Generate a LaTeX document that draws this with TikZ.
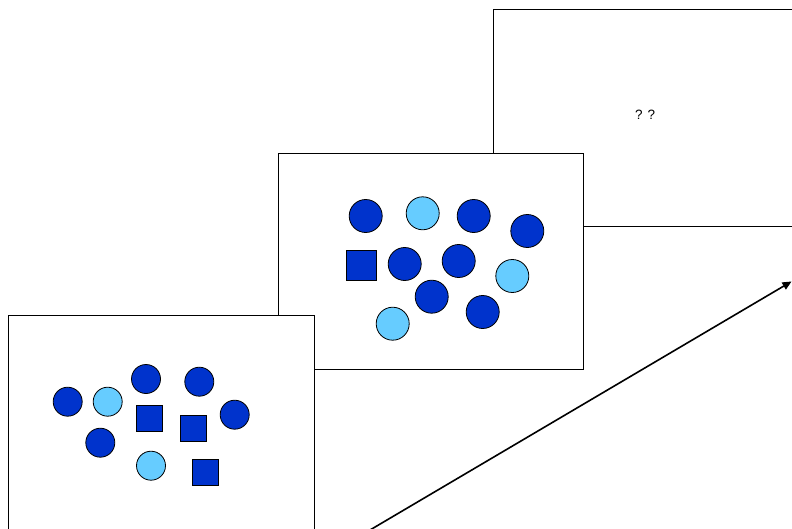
\documentclass[tikz,border=0pt]{standalone}
\usepackage{fontspec}
\setmainfont{Liberation Sans}
\usetikzlibrary{arrows.meta}
\definecolor{dk}{HTML}{0033CC}
\definecolor{lt}{HTML}{66CCFF}
\begin{document}
\begin{tikzpicture}[x=1pt,y=-1pt,
  frame/.style={draw=black,fill=white,line width=1pt,rectangle,inner sep=0pt},
  dkc/.style={circle,draw=black,fill=dk,line width=0.8pt,inner sep=0pt,minimum size=#1},
  dkc/.default=29pt,
  ltc/.style={circle,draw=black,fill=lt,line width=0.8pt,inner sep=0pt,minimum size=#1},
  ltc/.default=29pt,
  sq/.style={rectangle,draw=black,fill=dk,line width=0.8pt,inner sep=0pt,minimum size=#1},
  sq/.default=26pt]
\clip (0,0) rectangle (792,529);
\fill[white] (0,0) rectangle (792,529);
% box 3
\node[frame,minimum width=320pt,minimum height=217pt,anchor=north west] (b3) at (493,9) {};
\node[font=\fontsize{13.5}{15}\selectfont] (q) at (645,115) {? ?};
% box 2
\node[frame,minimum width=305pt,minimum height=216pt,anchor=north west] (b2) at (278,153) {};
\node[dkc=33pt] (c1) at (365.7,216) {};
\node[ltc=33pt] (c2) at (422.7,213.3) {};
\node[dkc=33pt] (c3) at (473.7,216) {};
\node[dkc=33pt] (c4) at (527.3,231) {};
\node[sq=30pt] (s1) at (361.3,265.3) {};
\node[dkc=33pt] (c5) at (404.7,264) {};
\node[dkc=33pt] (c6) at (458.7,261) {};
\node[ltc=33pt] (c7) at (512.3,276) {};
\node[dkc=33pt] (c8) at (431.7,296.7) {};
\node[dkc=33pt] (c9) at (482.7,312) {};
\node[ltc=33pt] (c10) at (392.7,323.7) {};
% box 1
\node[frame,minimum width=306pt,minimum height=240pt,anchor=north west] (b1) at (8,315) {};
\node[dkc] (d1) at (67.7,401.7) {};
\node[ltc] (d2) at (107.7,401.7) {};
\node[dkc] (d3) at (146,379) {};
\node[dkc] (d4) at (199.3,381.7) {};
\node[dkc] (d5) at (234.7,414.7) {};
\node[dkc] (d6) at (100.3,442.7) {};
\node[ltc] (d7) at (151,465.7) {};
\node[sq] (t1) at (149.7,418.2) {};
\node[sq] (t2) at (193.2,428.7) {};
\node[sq] (t3) at (205.7,472) {};
% arrow
\coordinate (a0) at (370,530);
\coordinate (a1) at (791.5,281.5);
\draw[line width=1.6pt,-{Triangle[length=9pt,width=8pt]}] (a0) -- (a1);
\end{tikzpicture}
\end{document}
